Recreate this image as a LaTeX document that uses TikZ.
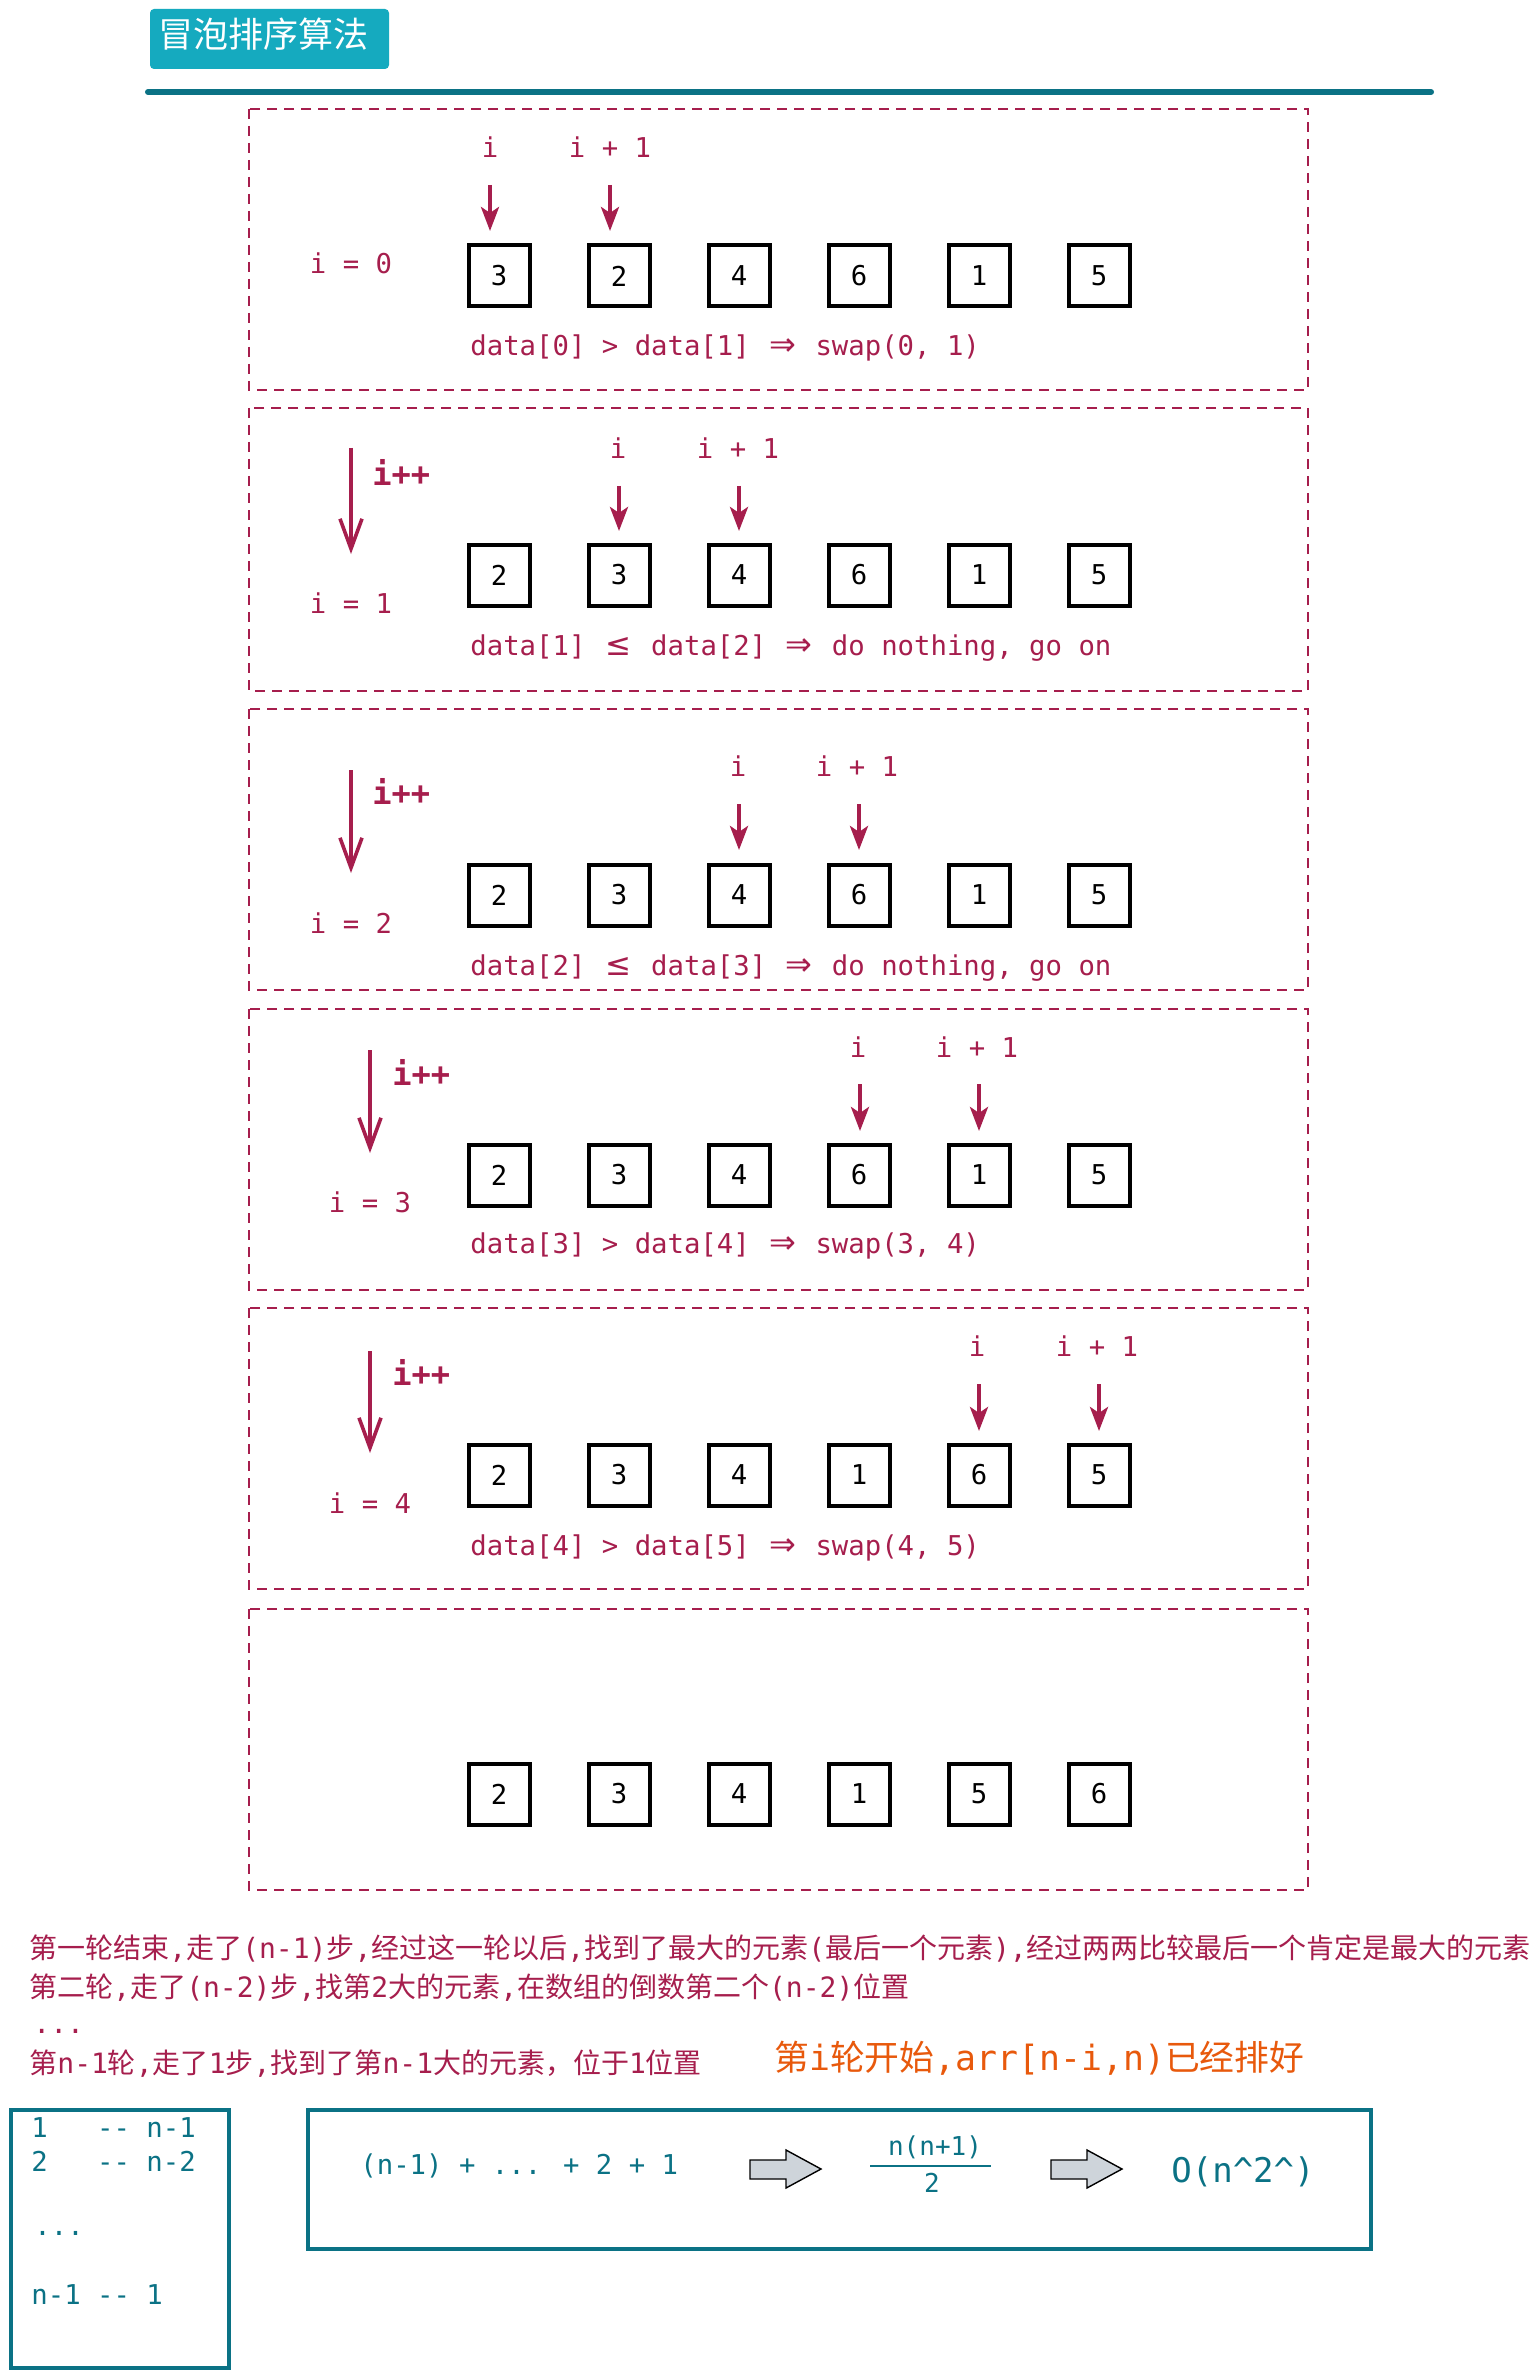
\documentclass[tikz,border=0pt]{standalone}
\usepackage{fontspec}
\setmainfont{DejaVu Sans}
\newfontfamily\monof{DejaVu Sans Mono}
\newfontfamily\cjkf{Noto Sans CJK SC}
\newfontfamily\symf{DejaVu Sans}
\usetikzlibrary{arrows.meta}
\definecolor{crim}{HTML}{A61E4D}
\definecolor{tealc}{HTML}{0B7285}
\definecolor{cyanb}{HTML}{15AABF}
\definecolor{orng}{HTML}{E8590C}
\definecolor{greyf}{HTML}{CED4DA}
\newcommand\C[1]{{\cjkf #1}}
\newcommand\LE{\makebox[1.204em]{\symf\fontsize{15.5}{16}\selectfont ≤}}
\newcommand\RA{\makebox[1.204em]{\symf\fontsize{16}{16}\selectfont ⇒}}
\tikzset{
  code/.style={font=\monof\fontsize{13.65}{16}\selectfont, text=crim, inner sep=0pt},
  bigcode/.style={font=\monof\bfseries\fontsize{16}{18}\selectfont, text=crim, inner sep=0pt},
  cell/.style={draw=black, line width=2pt, minimum width=30.5pt, minimum height=30.5pt, inner sep=0pt, font=\monof\fontsize{13.65}{16}\selectfont},
  panel/.style={draw=crim, line width=1.3pt, dash pattern=on 5pt off 3.5pt},
  ptr/.style={draw=crim, line width=2pt, -{Stealth[length=12pt,width=9pt,inset=3pt]}},
  inc/.style={draw=crim, line width=1.8pt, -{Straight Barb[length=15pt,width=11pt]}},
  cn/.style={font=\monof\fontsize{14}{16}\selectfont, text=crim, inner sep=0pt, anchor=west},
  tcode/.style={font=\monof\fontsize{13.65}{16}\selectfont, text=tealc, inner sep=0pt},
  tbox/.style={draw=tealc, line width=1.6pt},
  blockarrow/.style={fill=greyf, draw=black, line width=0.7pt, line join=miter}
}
\begin{document}
\begin{tikzpicture}[x=0.5pt,y=-0.5pt]
\useasboundingbox (0,0) rectangle (1536,2380);
\fill[white] (0,0) rectangle (1536,2380);

% title
\fill[cyanb, rounded corners=2pt] (150,9) rectangle (389,69);
\node[font=\cjkf\fontsize{17.5}{20}\selectfont, text=white, inner sep=0pt] (title) at (263,34) {冒泡排序算法};
\draw[tealc, line width=3pt, line cap=round] (148,92) -- (1431,92);

% panels
\draw[panel] (249,109) rectangle (1308,390);
\draw[panel] (249,408) rectangle (1308,691);
\draw[panel] (249,709) rectangle (1308,990);
\draw[panel] (249,1009) rectangle (1308,1290);
\draw[panel] (249,1308) rectangle (1308,1589);
\draw[panel] (249,1609) rectangle (1308,1890);

% cells
\foreach \v [count=\k] in {3,2,4,6,1,5} {\node[cell] (p1b\k) at ({499+(\k-1)*120},276) {\v};}
\foreach \v [count=\k] in {2,3,4,6,1,5} {\node[cell] (p2b\k) at ({499+(\k-1)*120},575) {\v};}
\foreach \v [count=\k] in {2,3,4,6,1,5} {\node[cell] (p3b\k) at ({499+(\k-1)*120},895) {\v};}
\foreach \v [count=\k] in {2,3,4,6,1,5} {\node[cell] (p4b\k) at ({499+(\k-1)*120},1175) {\v};}
\foreach \v [count=\k] in {2,3,4,1,6,5} {\node[cell] (p5b\k) at ({499+(\k-1)*120},1475) {\v};}
\foreach \v [count=\k] in {2,3,4,1,5,6} {\node[cell] (p6b\k) at ({499+(\k-1)*120},1794) {\v};}

% panel 1
\node[code] (p1i) at (490,147) {i};
\node[code] (p1ip) at (610,147) {i + 1};
\coordinate (p1s1) at (490,185); \coordinate (p1e1) at (490,231);
\coordinate (p1s2) at (610,185); \coordinate (p1e2) at (610,231);
\draw[ptr] (p1s1) -- (p1e1);
\draw[ptr] (p1s2) -- (p1e2);
\node[code] (p1v) at (351,263) {i = 0};
\node[code, anchor=west] (p1d) at (470,348) {data[0] > data[1] \RA{} swap(0, 1)};

% panel 2
\node[code] (p2i) at (618,448) {i};
\node[code] (p2ip) at (738,448) {i + 1};
\coordinate (p2s1) at (619,486); \coordinate (p2e1) at (619,531);
\coordinate (p2s2) at (739,486); \coordinate (p2e2) at (739,531);
\draw[ptr] (p2s1) -- (p2e1);
\draw[ptr] (p2s2) -- (p2e2);
\coordinate (p2a) at (351,448); \coordinate (p2b) at (351,554);
\draw[inc] (p2a) -- (p2b);
\node[bigcode, anchor=west] (p2inc) at (372,472) {i++};
\node[code] (p2v) at (351,603) {i = 1};
\node[code, anchor=west] (p2d) at (470,648) {data[1] \LE{} data[2] \RA{} do nothing, go on};

% panel 3
\node[code] (p3i) at (738,766) {i};
\node[code] (p3ip) at (857,766) {i + 1};
\coordinate (p3s1) at (739,804); \coordinate (p3e1) at (739,850);
\coordinate (p3s2) at (859,804); \coordinate (p3e2) at (859,850);
\draw[ptr] (p3s1) -- (p3e1);
\draw[ptr] (p3s2) -- (p3e2);
\coordinate (p3a) at (351,770); \coordinate (p3b) at (351,873);
\draw[inc] (p3a) -- (p3b);
\node[bigcode, anchor=west] (p3inc) at (372,791) {i++};
\node[code] (p3v) at (351,923) {i = 2};
\node[code, anchor=west] (p3d) at (470,968) {data[2] \LE{} data[3] \RA{} do nothing, go on};

% panel 4
\node[code] (p4i) at (858,1047) {i};
\node[code] (p4ip) at (977,1047) {i + 1};
\coordinate (p4s1) at (860,1084); \coordinate (p4e1) at (860,1131);
\coordinate (p4s2) at (979,1084); \coordinate (p4e2) at (979,1131);
\draw[ptr] (p4s1) -- (p4e1);
\draw[ptr] (p4s2) -- (p4e2);
\coordinate (p4a) at (370,1050); \coordinate (p4b) at (370,1153);
\draw[inc] (p4a) -- (p4b);
\node[bigcode, anchor=west] (p4inc) at (392,1072) {i++};
\node[code] (p4v) at (370,1202) {i = 3};
\node[code, anchor=west] (p4d) at (470,1246) {data[3] > data[4] \RA{} swap(3, 4)};

% panel 5
\node[code] (p5i) at (977,1346) {i};
\node[code] (p5ip) at (1097,1346) {i + 1};
\coordinate (p5s1) at (979,1384); \coordinate (p5e1) at (979,1431);
\coordinate (p5s2) at (1099,1384); \coordinate (p5e2) at (1099,1431);
\draw[ptr] (p5s1) -- (p5e1);
\draw[ptr] (p5s2) -- (p5e2);
\coordinate (p5a) at (370,1351); \coordinate (p5b) at (370,1453);
\draw[inc] (p5a) -- (p5b);
\node[bigcode, anchor=west] (p5inc) at (392,1372) {i++};
\node[code] (p5v) at (370,1503) {i = 4};
\node[code, anchor=west] (p5d) at (470,1548) {data[4] > data[5] \RA{} swap(4, 5)};

% explanation text
\node[cn] (t1) at (29,1949) {\C{第一轮结束},\C{走了}(n-1)\C{步},\C{经过这一轮以后},\C{找到了最大的元素}(\C{最后一个元素}),\C{经过两两比较最后一个肯定是最大的元素}};
\node[cn] (t2) at (29,1988) {\C{第二轮},\C{走了}(n-2)\C{步},\C{找第}2\C{大的元素},\C{在数组的倒数第二个}(n-2)\C{位置}};
\node[cn] (t3) at (33,2031) {...};
\node[cn] (t4) at (29,2064) {\C{第}n-1\C{轮},\C{走了}1\C{步},\C{找到了第}n-1\C{大的元素，位于}1\C{位置}};
\node[cn, text=orng, font=\monof\fontsize{17.4}{20}\selectfont] (t5) at (774,2058) {\C{第}i\C{轮开始},arr[n-i,n)\C{已经排好}};

% bottom boxes
\draw[tbox] (11,2110) rectangle (229,2368);
\node[tcode, anchor=west] (l1) at (31,2128) {1\ \ \ -{}- n-1};
\node[tcode, anchor=west] (l2) at (31,2161) {2\ \ \ -{}- n-2};
\node[tcode, anchor=west] (l3) at (34,2233) {...};
\node[tcode, anchor=west] (l4) at (31,2295) {n-1 -{}- 1};

\draw[tbox] (308,2110) rectangle (1371,2249);
\node[tcode, anchor=west] (sum) at (360,2166) {(n-1) + ... + 2 + 1};
\draw[blockarrow] (750,2160) -- (786,2160) -- (786,2150) -- (821,2169) -- (786,2188) -- (786,2179) -- (750,2179) -- cycle;
\node[tcode, font=\monof\fontsize{13}{15}\selectfont] (num) at (935,2147) {n(n+1)};
\node[tcode, font=\monof\fontsize{13}{15}\selectfont] (den) at (932,2183) {2};
\draw[tealc, line width=1.4pt] (870,2166) -- (991,2166);
\draw[blockarrow] (1051,2160) -- (1087,2160) -- (1087,2150) -- (1122,2169) -- (1087,2188) -- (1087,2179) -- (1051,2179) -- cycle;
\node[tcode, font=\monof\fontsize{17}{20}\selectfont] (big) at (1243,2172) {O(n\textasciicircum 2\textasciicircum)};
\end{tikzpicture}
\end{document}
